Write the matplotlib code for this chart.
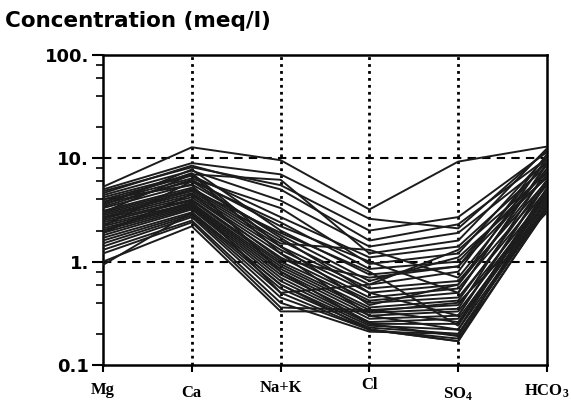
import matplotlib.pyplot as plt
from matplotlib.ticker import FixedLocator, NullFormatter

plt.rcParams['mathtext.fontset'] = 'custom'
plt.rcParams['mathtext.rm'] = 'Liberation Serif:bold'
plt.rcParams['mathtext.it'] = 'Liberation Serif:bold'
plt.rcParams['mathtext.bf'] = 'Liberation Serif:bold'

# ions on the x axis
ions = ['Mg', 'Ca', 'Na+K', 'Cl', 'SO$_4$', 'HCO$_3$']

# one row per water sample: Mg, Ca, Na+K, Cl, SO4, HCO3 (meq/l)
samples = [
    [5.3, 12.8, 9.6, 3.2, 9.3, 13.0],
    [5.0, 9.0, 7.0, 2.6, 2.1, 12.0],
    [4.8, 8.2, 5.5, 2.0, 2.7, 11.5],
    [4.6, 8.5, 5.0, 1.6, 2.3, 10.0],
    [4.4, 7.6, 3.9, 1.4, 1.9, 9.0],
    [4.2, 7.0, 6.2, 1.2, 1.6, 12.5],
    [4.0, 6.8, 2.7, 1.1, 1.4, 8.5],
    [3.8, 6.4, 3.3, 0.95, 1.2, 10.5],
    [3.6, 6.0, 2.4, 0.85, 1.0, 7.5],
    [3.5, 7.8, 2.0, 0.75, 0.9, 9.5],
    [3.3, 5.6, 1.8, 0.65, 1.1, 6.5],
    [3.1, 5.2, 1.6, 0.6, 0.8, 11.0],
    [3.0, 5.0, 1.5, 1.3, 0.7, 8.0],
    [2.9, 4.8, 1.4, 0.55, 0.65, 6.0],
    [2.8, 4.6, 1.3, 0.5, 0.6, 7.0],
    [2.7, 4.4, 1.2, 0.45, 0.55, 5.5],
    [2.6, 4.2, 1.1, 0.42, 0.5, 9.0],
    [2.5, 4.0, 1.0, 0.4, 0.45, 5.0],
    [2.4, 3.9, 0.95, 0.36, 0.42, 6.2],
    [2.3, 3.7, 0.9, 0.34, 0.38, 4.5],
    [2.2, 3.6, 0.85, 0.32, 0.35, 7.8],
    [2.1, 3.5, 0.8, 0.3, 0.33, 4.2],
    [2.0, 3.4, 0.75, 0.28, 0.3, 5.8],
    [1.9, 3.3, 0.7, 0.26, 0.28, 4.0],
    [1.8, 3.2, 0.65, 0.25, 0.25, 3.8],
    [1.7, 3.0, 0.6, 0.24, 0.22, 3.6],
    [1.6, 2.9, 0.55, 0.23, 0.2, 3.4],
    [1.5, 2.8, 0.5, 0.22, 0.18, 3.2],
    [1.4, 2.7, 0.45, 0.22, 0.17, 4.8],
    [1.3, 2.5, 0.4, 0.21, 0.2, 3.5],
    [1.2, 2.4, 0.36, 0.34, 0.26, 4.4],
    [1.0, 2.2, 0.33, 0.33, 0.4, 3.0],
    [0.93, 3.0, 0.6, 0.22, 0.17, 3.3],
    [2.2, 6.0, 1.7, 0.5, 0.3, 6.0],
    [3.0, 7.0, 1.2, 0.3, 0.22, 5.0],
    [4.0, 5.5, 0.8, 0.25, 0.19, 4.0],
    [3.4, 6.2, 2.2, 1.0, 0.5, 8.8],
    [2.6, 5.0, 1.9, 0.8, 0.24, 5.2],
    [1.9, 4.5, 1.05, 0.7, 0.9, 6.8],
    [3.7, 7.2, 1.4, 0.38, 0.6, 10.2],
    [2.0, 3.8, 0.5, 0.6, 1.3, 7.2],
]

y_ticks = [0.1, 1, 10, 100]
y_tick_labels = ['0.1', '1.', '10.', '100.']

fig = plt.figure(figsize=(5.71, 4.09), dpi=100)
ax = fig.add_axes([0.1804, 0.1076, 0.7776, 0.7579])

x = list(range(len(ions)))
for row in samples:
    ax.plot(x, row, color='#1c1c1c', lw=1.4, zorder=3)

ax.set_yscale('log')
ax.set_ylim(0.1, 100)
ax.set_xlim(0, len(ions) - 1)

# grid: dashed horizontals, dotted verticals
for yv in [1, 10]:
    ax.axhline(yv, color='black', lw=1.5, linestyle=(0, (4, 3)), zorder=1)
for xv in x[1:-1]:
    ax.axvline(xv, color='black', lw=2, linestyle=(0, (1, 1.5)), zorder=1)

ax.yaxis.set_major_locator(FixedLocator(y_ticks))
ax.set_yticklabels(y_tick_labels, fontsize=13, fontweight='bold')
minors = [m * d for d in [0.1, 1, 10] for m in [2, 4, 6, 8]]
ax.yaxis.set_minor_locator(FixedLocator(minors))
ax.yaxis.set_minor_formatter(NullFormatter())
ax.tick_params(axis='y', which='major', length=8, width=1.5, pad=2)
ax.tick_params(axis='y', which='minor', length=5, width=1.2)

ax.set_xticks(x)
ax.set_xticklabels([])
ax.tick_params(axis='x', length=5, width=1.5)

for s in ax.spines.values():
    s.set_linewidth(1.8)

# category labels below the axis, slightly uneven as in the original
offsets = [-0.081, -0.090, -0.073, -0.064, -0.093, -0.084]
for xi, name, off in zip(x, ions, offsets):
    ax.text(xi, off, name, transform=ax.get_xaxis_transform(), ha='center',
            va='center', fontsize=12, fontweight='bold',
            family='Liberation Serif')

fig.text(5 / 571, 1 - 27 / 409, 'Concentration (meq/l)', fontsize=15.5,
         fontweight='bold', ha='left', va='baseline')

fig.savefig('out.png', dpi=100)
